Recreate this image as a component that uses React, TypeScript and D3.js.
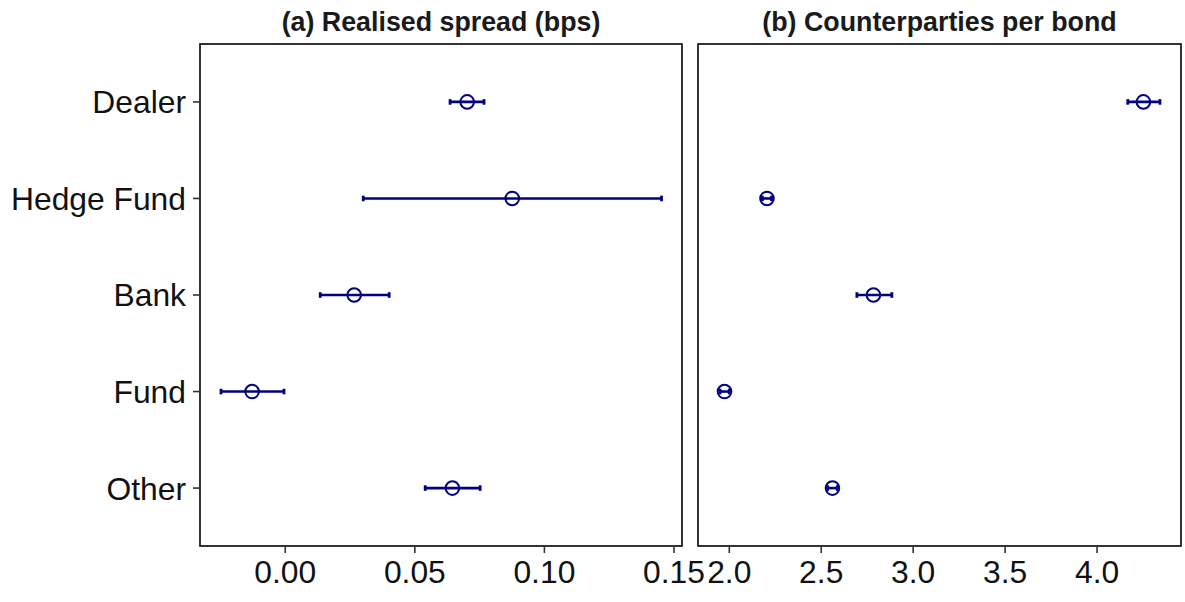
import React from "react";
import * as d3 from "d3";

const categories = ["Dealer", "Hedge Fund", "Bank", "Fund", "Other"];

// Panel (a) Realised spread (bps)
const spreadEst = [0.0702, 0.0876, 0.0266, -0.0128, 0.0645];
const spreadLo = [0.0636, 0.0301, 0.0135, -0.0248, 0.054];
const spreadHi = [0.0767, 0.1452, 0.0401, -0.0005, 0.0752];
const spreadTicks = [0, 0.05, 0.1, 0.15];
const spreadTickLabels = ["0.00", "0.05", "0.10", "0.15"];

// Panel (b) Counterparties per bond
const cpEst = [4.252, 2.205, 2.784, 1.974, 2.561];
const cpLo = [4.167, 2.18, 2.694, 1.95, 2.535];
const cpHi = [4.342, 2.23, 2.884, 2.0, 2.587];
const cpTicks = [2.0, 2.5, 3.0, 3.5, 4.0];
const cpTickLabels = ["2.0", "2.5", "3.0", "3.5", "4.0"];

const titles = ["(a) Realised spread (bps)", "(b) Counterparties per bond"];

const W = 1185;
const H = 602;
const top = 44;
const bottom = 546;
const navy = "#000080";
const font = "'Liberation Sans', Arial, sans-serif";

type PanelProps = {
  x0: number;
  x1: number;
  domain: [number, number];
  est: number[];
  lo: number[];
  hi: number[];
  ticks: number[];
  tickLabels: string[];
  title: string;
  showY: boolean;
};

function Panel(p: PanelProps) {
  const x = d3.scaleLinear().domain(p.domain).range([p.x0, p.x1]);
  const y = d3
    .scalePoint<string>()
    .domain(categories)
    .range([top, bottom])
    .padding(0.6);
  return (
    <g>
      <text
        x={(p.x0 + p.x1) / 2}
        y={31}
        textAnchor="middle"
        fontFamily={font}
        fontWeight="bold"
        fontSize={26.8}
        fill="#1a1a1a"
      >
        {p.title}
      </text>
      {categories.map((c, i) => {
        const yy = y(c)!;
        return (
          <g key={c}>
            <line x1={x(p.lo[i])} x2={x(p.hi[i])} y1={yy} y2={yy} stroke={navy} strokeWidth={2.6} />
            <line x1={x(p.lo[i])} x2={x(p.lo[i])} y1={yy - 2.8} y2={yy + 2.8} stroke={navy} strokeWidth={2.8} />
            <line x1={x(p.hi[i])} x2={x(p.hi[i])} y1={yy - 2.8} y2={yy + 2.8} stroke={navy} strokeWidth={2.8} />
            <circle cx={x(p.est[i])} cy={yy} r={6.8} fill="none" stroke={navy} strokeWidth={2} />
          </g>
        );
      })}
      <rect x={p.x0} y={top} width={p.x1 - p.x0} height={bottom - top} fill="none" stroke="#000" strokeWidth={1.6} />
      {p.ticks.map((t, i) => (
        <g key={t}>
          <line x1={x(t)} x2={x(t)} y1={bottom} y2={bottom + 7} stroke="#333" strokeWidth={1.6} />
          <text
            x={x(t)}
            y={583}
            textAnchor="middle"
            fontFamily={font}
            fontSize={31.8}
            fill="#111"
          >
            {p.tickLabels[i]}
          </text>
        </g>
      ))}
      {p.showY &&
        categories.map((c) => (
          <g key={c}>
            <line x1={p.x0 - 7} x2={p.x0} y1={y(c)!} y2={y(c)!} stroke="#333" strokeWidth={1.6} />
            <text
              x={p.x0 - 14}
              y={y(c)!}
              dy="0.36em"
              textAnchor="end"
              fontFamily={font}
              fontSize={31.8}
              fill="#111"
            >
              {c}
            </text>
          </g>
        ))}
    </g>
  );
}

export default function App() {
  return (
    <svg
      width={W}
      height={H}
      style={{ position: "absolute", left: 0, top: 0, background: "#fff" }}
    >
      <rect width={W} height={H} fill="#fff" />
      <Panel
        x0={200}
        x1={682}
        domain={[-0.0329, 0.1531]}
        est={spreadEst}
        lo={spreadLo}
        hi={spreadHi}
        ticks={spreadTicks}
        tickLabels={spreadTickLabels}
        title={titles[0]}
        showY={true}
      />
      <Panel
        x0={698}
        x1={1181}
        domain={[1.8299, 4.4565]}
        est={cpEst}
        lo={cpLo}
        hi={cpHi}
        ticks={cpTicks}
        tickLabels={cpTickLabels}
        title={titles[1]}
        showY={false}
      />
    </svg>
  );
}
